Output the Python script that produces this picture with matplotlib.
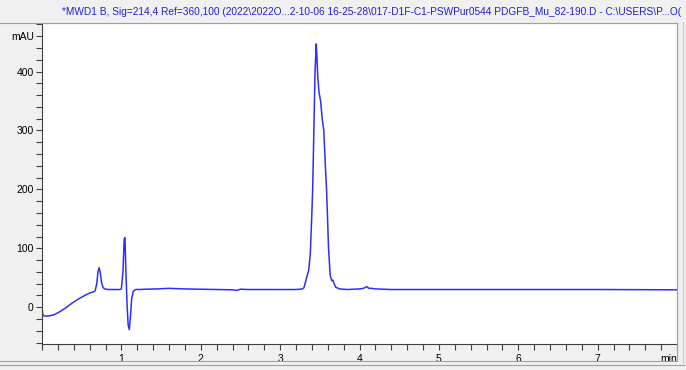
import matplotlib
matplotlib.use("Agg")
import matplotlib.pyplot as plt
from matplotlib.ticker import MultipleLocator, FixedLocator, FixedFormatter
from matplotlib.lines import Line2D

# signal trace (time in min, signal in mAU)
zeit = [0.0, 0.01, 0.03, 0.08, 0.15, 0.22, 0.30, 0.38, 0.46, 0.54, 0.60, 0.65,
        0.67, 0.69, 0.705, 0.72, 0.735, 0.75, 0.77, 0.80, 0.85, 0.92, 0.98,
        1.00, 1.02, 1.035, 1.045, 1.055, 1.07, 1.085, 1.10, 1.115, 1.13, 1.15,
        1.18, 1.22, 1.30, 1.45, 1.60, 1.80, 2.00, 2.20, 2.40, 2.45, 2.50, 2.60,
        2.80, 3.00, 3.20, 3.28, 3.30, 3.33, 3.36, 3.38, 3.40, 3.41, 3.425,
        3.44, 3.455, 3.465, 3.475, 3.49, 3.51, 3.53, 3.55, 3.57, 3.585, 3.61,
        3.63, 3.65, 3.665, 3.68, 3.70, 3.75, 3.85, 4.00, 4.05, 4.09, 4.12,
        4.15, 4.20, 4.40, 5.0, 6.0, 7.0, 8.0]
mau = [0, -13, -15, -15, -13, -8, -1, 7, 14, 20, 24, 26,
       28, 40, 60, 67, 58, 42, 33, 30.5, 30, 30, 30,
       31, 60, 115, 118, 70, 10, -30, -38, -15, 15, 27,
       30, 30, 30.5, 31, 32, 31, 30.5, 30, 29.5, 28.5, 30.5, 30,
       30, 30, 30, 31, 33, 48, 63, 90, 160, 200, 300,
       400, 447, 420, 390, 365, 350, 320, 300, 240, 200, 100,
       55, 45, 46, 40, 34, 31, 30, 31, 32, 35, 32,
       32, 31, 30, 30, 30, 30, 29.5]

y_ticks = [0, 100, 200, 300, 400, 460]
y_labels = ["0", "100", "200", "300", "400", "mAU"]
x_ticks = [1, 2, 3, 4, 5, 6, 7, 8]
x_labels = ["1", "2", "3", "4", "5", "6", "7", "min"]
titel = ("*MWD1 B, Sig=214,4 Ref=360,100 (2022\\2022O...2-10-06 16-25-28\\"
         "017-D1F-C1-PSWPur0544 PDGFB_Mu_82-190.D - C:\\USERS\\P...O(")

plt.rcParams['font.family'] = ['Liberation Sans', 'DejaVu Sans']

fig = plt.figure(figsize=(6.86, 3.70), dpi=100, facecolor='#f0f0f0')
ax = fig.add_axes([42/686, 1-344/370, (677-42)/686, (344-23)/370])

ax.plot(zeit, mau, color='#2e2eff', lw=1.1)
ax.set_xlim(0, 8)
ax.set_ylim(-62.5, 482.5)

ax.xaxis.set_major_locator(FixedLocator(x_ticks))
ax.xaxis.set_major_formatter(FixedFormatter(x_labels))
ax.xaxis.set_minor_locator(MultipleLocator(0.2))
ax.yaxis.set_major_locator(FixedLocator(y_ticks))
ax.yaxis.set_major_formatter(FixedFormatter(y_labels))
ax.yaxis.set_minor_locator(MultipleLocator(20))

ax.tick_params(axis='both', which='both', direction='out', color='#404040',
               width=0.8, length=4, labelsize=7.5, labelcolor='#000000', pad=2)
ax.tick_params(axis='x', pad=3)

for s in ['left', 'bottom']:
    ax.spines[s].set_color('#404040')
    ax.spines[s].set_linewidth(0.8)
for s in ['top', 'right']:
    ax.spines[s].set_color('#a0a0a0')
    ax.spines[s].set_linewidth(0.8)

# "min" sits inside the right edge
fig.canvas.draw()
ax.get_xticklabels()[-1].set_horizontalalignment('right')

# window decorations
fig.add_artist(Line2D([0, 677/686], [1-361/370]*2, color='#a0a0a0', lw=0.8))
fig.add_artist(Line2D([677/686]*2, [1-361/370, 1-23/370], color='#a0a0a0', lw=0.8))
fig.add_artist(Line2D([0, 1], [1-365/370]*2, color='#a0a0a0', lw=0.8))
fig.add_artist(Line2D([683/686]*2, [1-365/370, 1-22/370], color='#c8c8c8', lw=0.8))
fig.add_artist(Line2D([0, 677/686], [1-23/370]*2, color='#a0a0a0', lw=0.8))

fig.text(62/686, 1-12/370, titel, color='#2020e0', fontsize=7.3,
         ha='left', va='center')

fig.savefig('out.png', dpi=100, facecolor=fig.get_facecolor())
